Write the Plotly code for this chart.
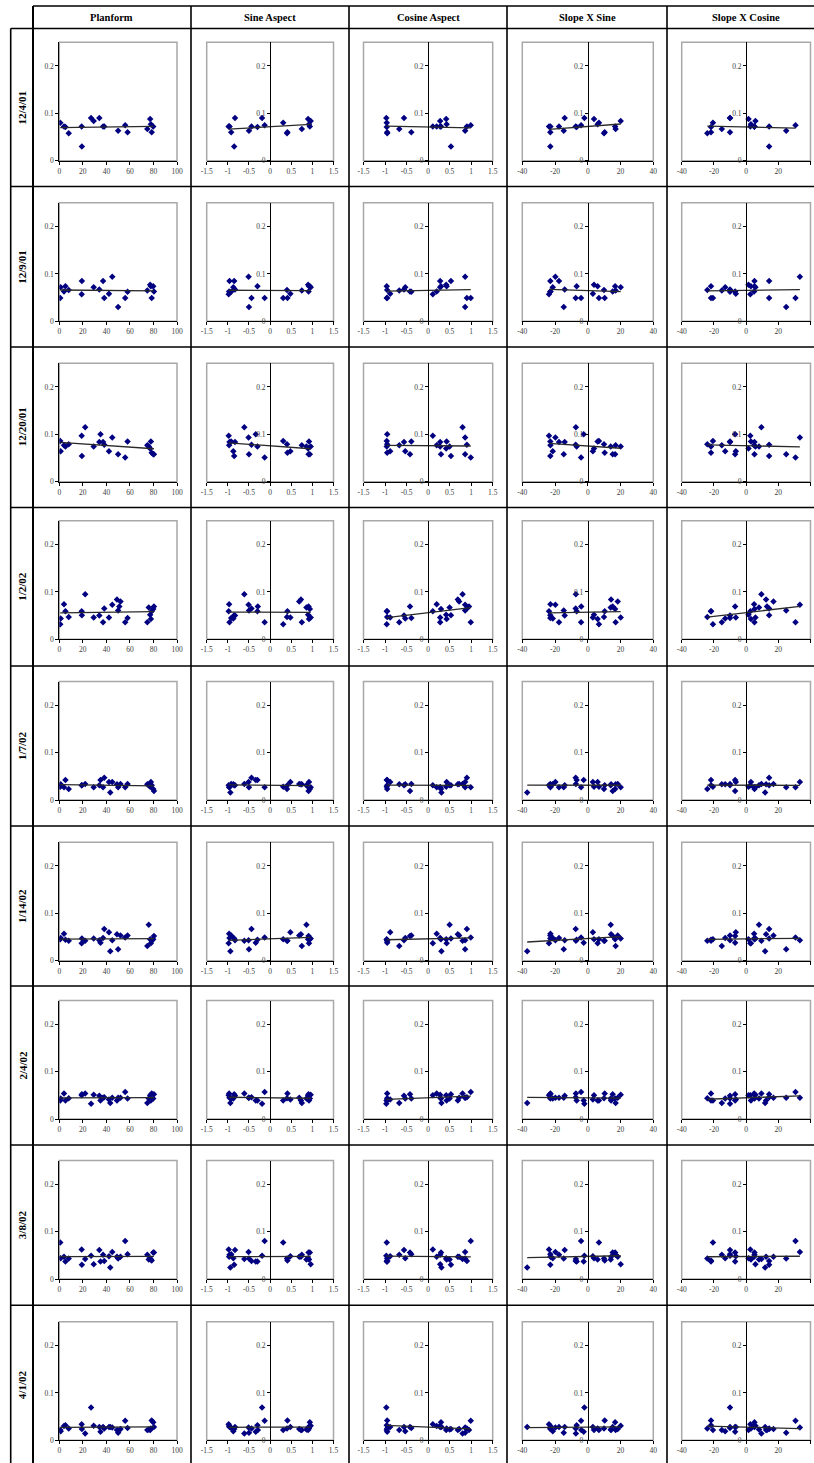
import numpy as np
import plotly.graph_objects as go

W, H = 814, 1463

# ---- site attributes (one entry per monitoring site) ----
planform = [0.8, 1.2, 4.0, 5.2, 8.0, 19.0, 19.2, 22.0, 27.0, 29.2, 34.0, 35.0, 37.2, 38.2, 42.2,
            43.3, 45.0, 49.0, 50.0, 51.0, 52.0, 56.0, 58.0, 74.8, 76.0, 77.2, 77.8, 78.5, 79.8, 80.4]
sine_aspect = [0.31, -0.87, -0.97, -0.30, 0.40, -0.98, -0.85, -0.61, -0.19, 0.96, -0.83, -0.34, -0.96,
               -0.44, 0.48, -0.94, -0.51, 0.73, -0.50, -0.29, 0.69, -0.13, -0.92, 0.75, 0.86, 0.90,
               0.92, 0.41, 0.94, 0.91]
cosine_aspect = [-0.96, -0.53, 0.20, -0.96, -0.95, 0.11, 0.53, 0.80, -0.97, 0.28, -0.56, -0.95, 0.28,
                 0.90, -0.88, 0.31, 0.86, 0.69, 0.86, 0.95, 0.72, 0.99, -0.39, -0.67, 0.50, 0.42,
                 0.43, -0.95, 0.30, -0.42]
slope_x_sine = [6.8, -21.4, -22.8, -6.8, 9.9, -23.7, -22.9, -7.3, -2.1, 20.1, -14.1, -2.5, -17.6,
                -7.4, 3.1, -37.0, -19.8, 14.2, -14.7, -4.0, 18.3, -4.1, -22.9, 17.0, 14.0, 3.8,
                6.0, 10.3, 16.7, 15.2]
slope_x_cosine = [-20.6, -13.0, 5.0, -21.8, -24.1, 2.6, 14.3, 9.5, -10.0, 5.8, -10.0, -6.8, 5.2,
                  14.3, -6.4, 11.8, 33.4, 12.4, 24.9, 13.0, 17.0, 30.7, -10.0, -15.1, 8.0, 1.5,
                  3.0, -21.8, 5.2, -6.8]

# ---- measured values per survey date (None = not sampled) ----
n = None
d_12_4_01 = [0.080, n, 0.072, 0.071, 0.058, 0.072, 0.030, n, 0.090, 0.084, 0.090, n, 0.072, 0.072, n,
             n, n, n, 0.063, n, n, 0.075, 0.060, 0.067, n, 0.088, 0.077, 0.060, 0.072, n]
d_12_9_01 = [0.049, 0.072, 0.063, 0.074, 0.066, 0.057, 0.085, n, n, 0.072, 0.067, n, 0.085, 0.049, 0.058,
             n, 0.094, n, 0.030, n, n, 0.049, 0.0625, 0.065, n, 0.077, 0.074, 0.049, 0.074, 0.063]
d_12_20_01 = [0.086, 0.064, 0.077, 0.074, 0.079, 0.097, 0.054, 0.115, n, 0.074, 0.084, 0.100, 0.084, 0.078,
              0.064, n, 0.093, n, 0.058, n, n, 0.051, 0.085, 0.077, 0.074, 0.070, 0.085, 0.061, 0.058, 0.058]
d_1_2_02 = [0.032, 0.044, 0.074, 0.059, 0.047, 0.059, 0.051, 0.095, n, 0.046, 0.050, n, 0.036, 0.065,
            0.046, n, 0.073, 0.084, 0.061, 0.069, 0.080, 0.036, 0.045, 0.036, 0.067, 0.052, 0.043,
            0.059, 0.064, 0.069]
d_1_7_02 = [0.028, 0.033, 0.027, 0.042, 0.023, 0.031, 0.031, 0.034, n, 0.027, 0.031, 0.042, 0.027, 0.047,
            0.038, 0.016, 0.038, 0.033, 0.027, n, 0.034, 0.027, 0.034, 0.033, 0.031, 0.028, 0.038,
            0.031, 0.023, 0.019]
d_1_14_02 = [0.045, 0.048, 0.057, 0.044, 0.042, 0.037, 0.047, 0.042, n, 0.047, 0.043, 0.038, 0.048, 0.067,
             0.060, 0.020, 0.043, 0.056, 0.024, n, 0.053, 0.049, 0.053, 0.031, 0.076, 0.045, 0.037,
             0.042, 0.045, 0.052]
d_2_4_02 = [0.039, 0.043, 0.054, 0.039, 0.044, 0.050, 0.052, 0.054, 0.032, 0.051, 0.049, 0.039, 0.045,
            0.046, 0.041, 0.034, 0.045, 0.039, 0.045, n, 0.045, 0.057, 0.043, 0.034, 0.043, 0.050,
            0.039, 0.054, 0.043, 0.052]
d_3_8_02 = [0.077, 0.044, 0.047, 0.037, 0.043, 0.062, 0.030, 0.042, 0.049, 0.031, 0.061, 0.037, 0.051,
            0.038, 0.048, 0.024, 0.057, 0.047, 0.043, n, 0.047, 0.080, 0.052, 0.051, 0.041, 0.044,
            0.041, 0.039, 0.056, 0.056]
d_4_1_02 = [0.0215, 0.019, 0.030, 0.032, 0.025, 0.034, 0.024, 0.0146, 0.069, 0.0306, 0.028, 0.018, 0.028,
            0.025, 0.028, 0.028, 0.027, 0.0215, 0.016, 0.0215, 0.024, 0.041, 0.026, 0.0215, 0.023,
            0.0215, 0.025, 0.042, 0.038, 0.028]

date_labels = ["12/4/01", "12/9/01", "12/20/01", "1/2/02", "1/7/02", "1/14/02", "2/4/02", "3/8/02", "4/1/02"]
date_values = [d_12_4_01, d_12_9_01, d_12_20_01, d_1_2_02, d_1_7_02, d_1_14_02, d_2_4_02, d_3_8_02, d_4_1_02]

column_titles = ["Planform", "Sine Aspect", "Cosine Aspect", "Slope X Sine", "Slope X Cosine"]
column_x = [planform, sine_aspect, cosine_aspect, slope_x_sine, slope_x_cosine]
x_ranges = [(0, 100), (-1.5, 1.5), (-1.5, 1.5), (-40, 40), (-40, 40)]
x_tickvals = [[0, 20, 40, 60, 80, 100],
              [-1.5, -1, -0.5, 0, 0.5, 1, 1.5],
              [-1.5, -1, -0.5, 0, 0.5, 1, 1.5],
              [-40, -20, 0, 20, 40],
              [-40, -20, 0, 20, 40]]
x_ticktext = [["0", "20", "40", "60", "80", "100"],
              ["-1.5", "-1", "-0.5", "0", "0.5", "1", "1.5"],
              ["-1.5", "-1", "-0.5", "0", "0.5", "1", "1.5"],
              ["-40", "-20", "0", "20", "40"],
              ["-40", "-20", "0", "20", "40"]]
y_tickvals = [0, 0.1, 0.2]
y_ticktext = ["0", "0.1", "0.2"]
y_range = (0, 0.25)

# ---- page geometry (pixels) ----
box_x = [(59.3, 177.0), (206.7, 333.5), (363.5, 492.7), (522.3, 653.3), (681.7, 810.5)]
zero_y = [160.7, 321.3, 481.7, 639.3, 800.0, 960.7, 1119.0, 1279.0, 1440.3]
plot_h = 118.5
row_lines = [28.5, 186.5, 347.0, 507.5, 666.0, 826.0, 986.0, 1145.0, 1305.3, 1465.0]
col_lines = [191.0, 349.0, 507.0, 667.0]
col_centers = [111.5, 270.0, 428.0, 587.0, 746.0]


def px(x):
    return x / W


def py(y):
    return 1 - y / H


SERIF = "Liberation Serif"
tick_font = dict(family=SERIF, size=7.5, color="#404040")

fig = go.Figure()
layout = {}
shapes = []
annotations = []

for r, (label, vals) in enumerate(zip(date_labels, date_values)):
    y0 = zero_y[r]
    ytop = y0 - plot_h
    for c in range(5):
        k = r * 5 + c + 1
        xs = "x" if k == 1 else f"x{k}"
        ys = "y" if k == 1 else f"y{k}"
        xk = "xaxis" if k == 1 else f"xaxis{k}"
        yk = "yaxis" if k == 1 else f"yaxis{k}"
        bx0, bx1 = box_x[c]
        xmin, xmax = x_ranges[c]

        pts = [(xv, yv) for xv, yv in zip(column_x[c], vals) if yv is not None]
        xv = np.array([p[0] for p in pts], dtype=float)
        yv = np.array([p[1] for p in pts], dtype=float)

        fig.add_trace(go.Scatter(
            x=xv, y=yv, mode="markers", xaxis=xs, yaxis=ys, showlegend=False,
            marker=dict(symbol="diamond", size=5, color="#000080", line=dict(width=0)),
            hoverinfo="x+y"))

        # linear least-squares trend line across the sampled range
        slope, icpt = np.polyfit(xv, yv, 1)
        lx = np.array([xv.min(), xv.max()])
        fig.add_trace(go.Scatter(
            x=lx, y=slope * lx + icpt, mode="lines", xaxis=xs, yaxis=ys,
            showlegend=False, hoverinfo="skip",
            line=dict(color="#2a2a2a", width=1.3)))

        layout[xk] = dict(
            domain=[px(bx0), px(bx1)], range=[xmin, xmax], anchor=ys,
            showline=True, linecolor="black", linewidth=1, automargin=False,
            ticks="outside", ticklen=3, tickwidth=1, tickcolor="black",
            tickmode="array", tickvals=x_tickvals[c], ticktext=x_ticktext[c],
            tickfont=tick_font, showgrid=False, zeroline=False, fixedrange=True)

        yax = dict(
            domain=[py(y0), py(ytop)], range=list(y_range),
            showline=True, linecolor="black", linewidth=1, automargin=False,
            ticks="outside", ticklen=3, tickwidth=1, tickcolor="black",
            tickmode="array", tickvals=y_tickvals, ticktext=y_ticktext,
            tickfont=tick_font, showgrid=False, zeroline=False, fixedrange=True)
        if c == 0:
            yax["anchor"] = xs
        else:
            yax["anchor"] = "free"
            yax["position"] = px(bx0 + (0 - xmin) / (xmax - xmin) * (bx1 - bx0))
        layout[yk] = yax

        # grey plot-area frame
        shapes.append(dict(type="rect", xref="paper", yref="paper",
                           x0=px(bx0), x1=px(bx1), y0=py(y0), y1=py(ytop),
                           line=dict(color="#a8a8a8", width=1.5), layer="below"))

    annotations.append(dict(
        text=f"<b>{label}</b>", xref="paper", yref="paper",
        x=px(22), y=py((row_lines[r] + row_lines[r + 1]) / 2),
        xanchor="center", yanchor="middle",
        textangle=-90, showarrow=False,
        font=dict(family=SERIF, size=11, color="black")))

for c, title in enumerate(column_titles):
    annotations.append(dict(
        text=f"<b>{title}</b>", xref="paper", yref="paper",
        x=px(col_centers[c]), y=py(17.5), xanchor="center", yanchor="middle",
        showarrow=False, font=dict(family=SERIF, size=10.5, color="black")))

# table rules
line_style = dict(color="black", width=1.6)
shapes.append(dict(type="line", xref="paper", yref="paper", x0=px(33), x1=1,
                   y0=py(6), y1=py(6), line=line_style))
for yl in row_lines[:-1]:
    shapes.append(dict(type="line", xref="paper", yref="paper", x0=px(10.7), x1=1,
                       y0=py(yl), y1=py(yl), line=line_style))
shapes.append(dict(type="line", xref="paper", yref="paper", x0=px(10.7), x1=px(10.7),
                   y0=py(row_lines[0]), y1=0, line=line_style))
shapes.append(dict(type="line", xref="paper", yref="paper", x0=px(33), x1=px(33),
                   y0=py(6), y1=0, line=dict(color="black", width=2)))
for xl in col_lines:
    shapes.append(dict(type="line", xref="paper", yref="paper", x0=px(xl), x1=px(xl),
                       y0=py(6), y1=0, line=line_style))

fig.update_layout(
    template="none",
    width=W, height=H, margin=dict(l=0, r=0, t=0, b=0, pad=0, autoexpand=False),
    paper_bgcolor="white", plot_bgcolor="white",
    showlegend=False, shapes=shapes, annotations=annotations, **layout)

fig.write_html(
    "out.html",
    config={"displayModeBar": False, "responsive": False},
    post_script="document.body.style.margin='0';document.body.style.overflow='hidden';")
